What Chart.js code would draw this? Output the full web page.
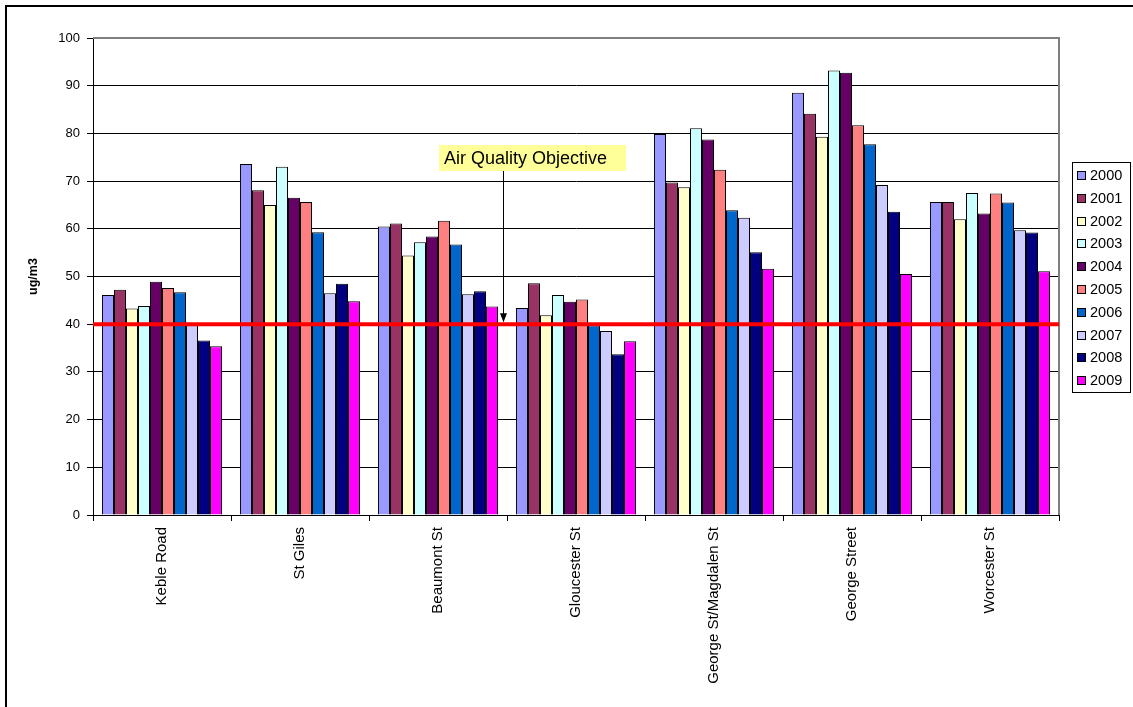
<!DOCTYPE html>
<html>
<head>
<meta charset="utf-8">
<script src="https://cdn.jsdelivr.net/npm/chart.js@4.4.1/dist/chart.umd.min.js"></script>
<style>
  html, body { margin: 0; padding: 0; background: #fff; overflow: hidden; }
  #frame { position: absolute; left: 5px; top: 5px; width: 1200px; height: 800px;
           border-left: 2px solid #000; border-top: 2px solid #000; }
  #wrap { position: absolute; left: 0; top: 0; width: 1133px; height: 707px; }
</style>
</head>
<body>
<div id="frame"></div>
<div id="wrap"><canvas id="myChart" width="1133" height="707"></canvas></div>
<script>
var sites = ["Keble Road", "St Giles", "Beaumont St", "Gloucester St",
  "George St/Magdalen St", "George Street", "Worcester St"];
var years = ["2000", "2001", "2002", "2003", "2004", "2005", "2006", "2007", "2008", "2009"];

// annual mean NO2 per site, one array per year
var y2000 = [46.1, 73.6, 60.5, 43.4, 79.9, 88.5, 65.6];
var y2001 = [47.2, 68.1, 61.1, 48.6, 69.7, 84.1, 65.6];
var y2002 = [43.3, 65.0, 54.4, 41.9, 68.7, 79.3, 62.0];
var y2003 = [43.8, 73.0, 57.2, 46.1, 81.1, 93.2, 67.5];
var y2004 = [48.9, 66.5, 58.4, 44.7, 78.7, 92.7, 63.2];
var y2005 = [47.6, 65.6, 61.7, 45.2, 72.4, 81.7, 67.4];
var y2006 = [46.7, 59.3, 56.7, 39.8, 63.9, 77.7, 65.5];
var y2007 = [39.8, 46.5, 46.3, 38.6, 62.3, 69.2, 59.7];
var y2008 = [36.6, 48.5, 46.9, 33.7, 55.1, 63.6, 59.2];
var y2009 = [35.4, 44.8, 43.7, 36.4, 51.6, 50.5, 51.1];

var objective = 40;
var objectiveLabel = "Air Quality Objective";

var series = [y2000, y2001, y2002, y2003, y2004, y2005, y2006, y2007, y2008, y2009];
var colours = ["#9999FF", "#993366", "#FFFFCC", "#CCFFFF", "#660066",
  "#FF8080", "#0066CC", "#CCCCFF", "#000080", "#FF00FF"];

var FONT = "'Liberation Sans', Arial, sans-serif";

var datasets = years.map(function (yr, i) {
  return {
    label: yr,
    data: series[i],
    backgroundColor: colours[i],
    borderColor: "#000",
    borderWidth: 1,
    borderSkipped: "bottom",
    categoryPercentage: 0.87,
    barPercentage: 1.0,
  };
});

// plot frame (grey top/right edge) + red objective line + callout
var extras = {
  id: "extras",
  beforeDatasetsDraw: function (chart) {
    var c = chart.ctx, a = chart.chartArea;
    c.save();
    c.strokeStyle = "#808080";
    c.lineWidth = 2;
    c.beginPath();
    c.moveTo(a.left, a.top);
    c.lineTo(a.right, a.top);
    c.lineTo(a.right, a.bottom);
    c.stroke();
    c.restore();
  },
  afterDatasetsDraw: function (chart) {
    var c = chart.ctx, a = chart.chartArea;
    var ys = chart.scales.y, xs = chart.scales.x;
    var yLine = ys.getPixelForValue(objective);
    c.save();
    c.strokeStyle = "#FF0000";
    c.lineWidth = 4;
    c.beginPath();
    c.moveTo(a.left, yLine);
    c.lineTo(a.right, yLine);
    c.stroke();

    // callout box with arrow down to the line
    var ax = xs.getPixelForValue(2) + (xs.getPixelForValue(3) - xs.getPixelForValue(2)) * 0.47;
    c.font = "18px " + FONT;
    var tw = c.measureText(objectiveLabel).width;
    var bx = 439, by = 145, bw = tw + 24, bh = 26;
    c.fillStyle = "#FFFF99";
    c.fillRect(bx, by, bw, bh);
    c.fillStyle = "#000";
    c.textBaseline = "middle";
    c.textAlign = "left";
    c.fillText(objectiveLabel, bx + 5, by + bh / 2 + 1);

    c.strokeStyle = "#000";
    c.lineWidth = 1;
    c.beginPath();
    c.moveTo(Math.round(ax) + 0.5, by + bh);
    c.lineTo(Math.round(ax) + 0.5, yLine - 3);
    c.stroke();
    c.beginPath();
    c.moveTo(Math.round(ax) + 0.5, yLine - 2);
    c.lineTo(Math.round(ax) - 3, yLine - 11);
    c.lineTo(Math.round(ax) + 4, yLine - 11);
    c.closePath();
    c.fill();
    c.restore();
  },
  afterDraw: function (chart) {
    // legend box on the right
    var c = chart.ctx;
    var lx = 1072, ly = 162, lw = 58, lh = 230, row = 22.8;
    c.save();
    c.fillStyle = "#fff";
    c.fillRect(lx, ly, lw, lh);
    c.strokeStyle = "#000";
    c.lineWidth = 1;
    c.strokeRect(lx + 0.5, ly + 0.5, lw, lh);
    c.font = "14.5px " + FONT;
    c.textBaseline = "middle";
    c.textAlign = "left";
    chart.data.datasets.forEach(function (ds, i) {
      var cy = 175 + i * row;
      c.fillStyle = ds.backgroundColor;
      c.fillRect(1077, Math.round(cy - 4), 9, 9);
      c.strokeStyle = "#000";
      c.strokeRect(1077.5, Math.round(cy - 4) + 0.5, 8, 8);
      c.fillStyle = "#000";
      c.fillText(ds.label, 1090, cy + 1);
    });
    c.restore();
  },
};

var ctx = document.getElementById("myChart").getContext("2d");
var myChart = new Chart(ctx, {
  type: "bar",
  data: { labels: sites, datasets: datasets },
  plugins: [extras],
  options: {
    responsive: false,
    animation: false,
    layout: { padding: { left: 20, right: 74, top: 38, bottom: 0 } },
    plugins: { legend: { display: false }, tooltip: { enabled: false } },
    scales: {
      x: {
        offset: true,
        grid: { offset: true, drawOnChartArea: false, color: "#000", tickLength: 6 },
        border: { color: "#000", width: 1 },
        ticks: {
          minRotation: 90, maxRotation: 90, padding: 6,
          color: "#000", font: { family: FONT, size: 15 },
        },
        afterFit: function (s) { s.height = 192; },
      },
      y: {
        min: 0, max: 100,
        grid: { color: "#000", tickLength: 6 },
        border: { color: "#000", width: 1 },
        ticks: { stepSize: 10, padding: 7, color: "#000", font: { family: FONT, size: 13 } },
        title: {
          display: true, text: "ug/m3", color: "#000",
          padding: { top: 6, bottom: 0 },
          font: { family: FONT, size: 12.5, weight: "bold" },
        },
        afterFit: function (s) { s.width = 73; },
      },
    },
  },
});
</script>
</body>
</html>
